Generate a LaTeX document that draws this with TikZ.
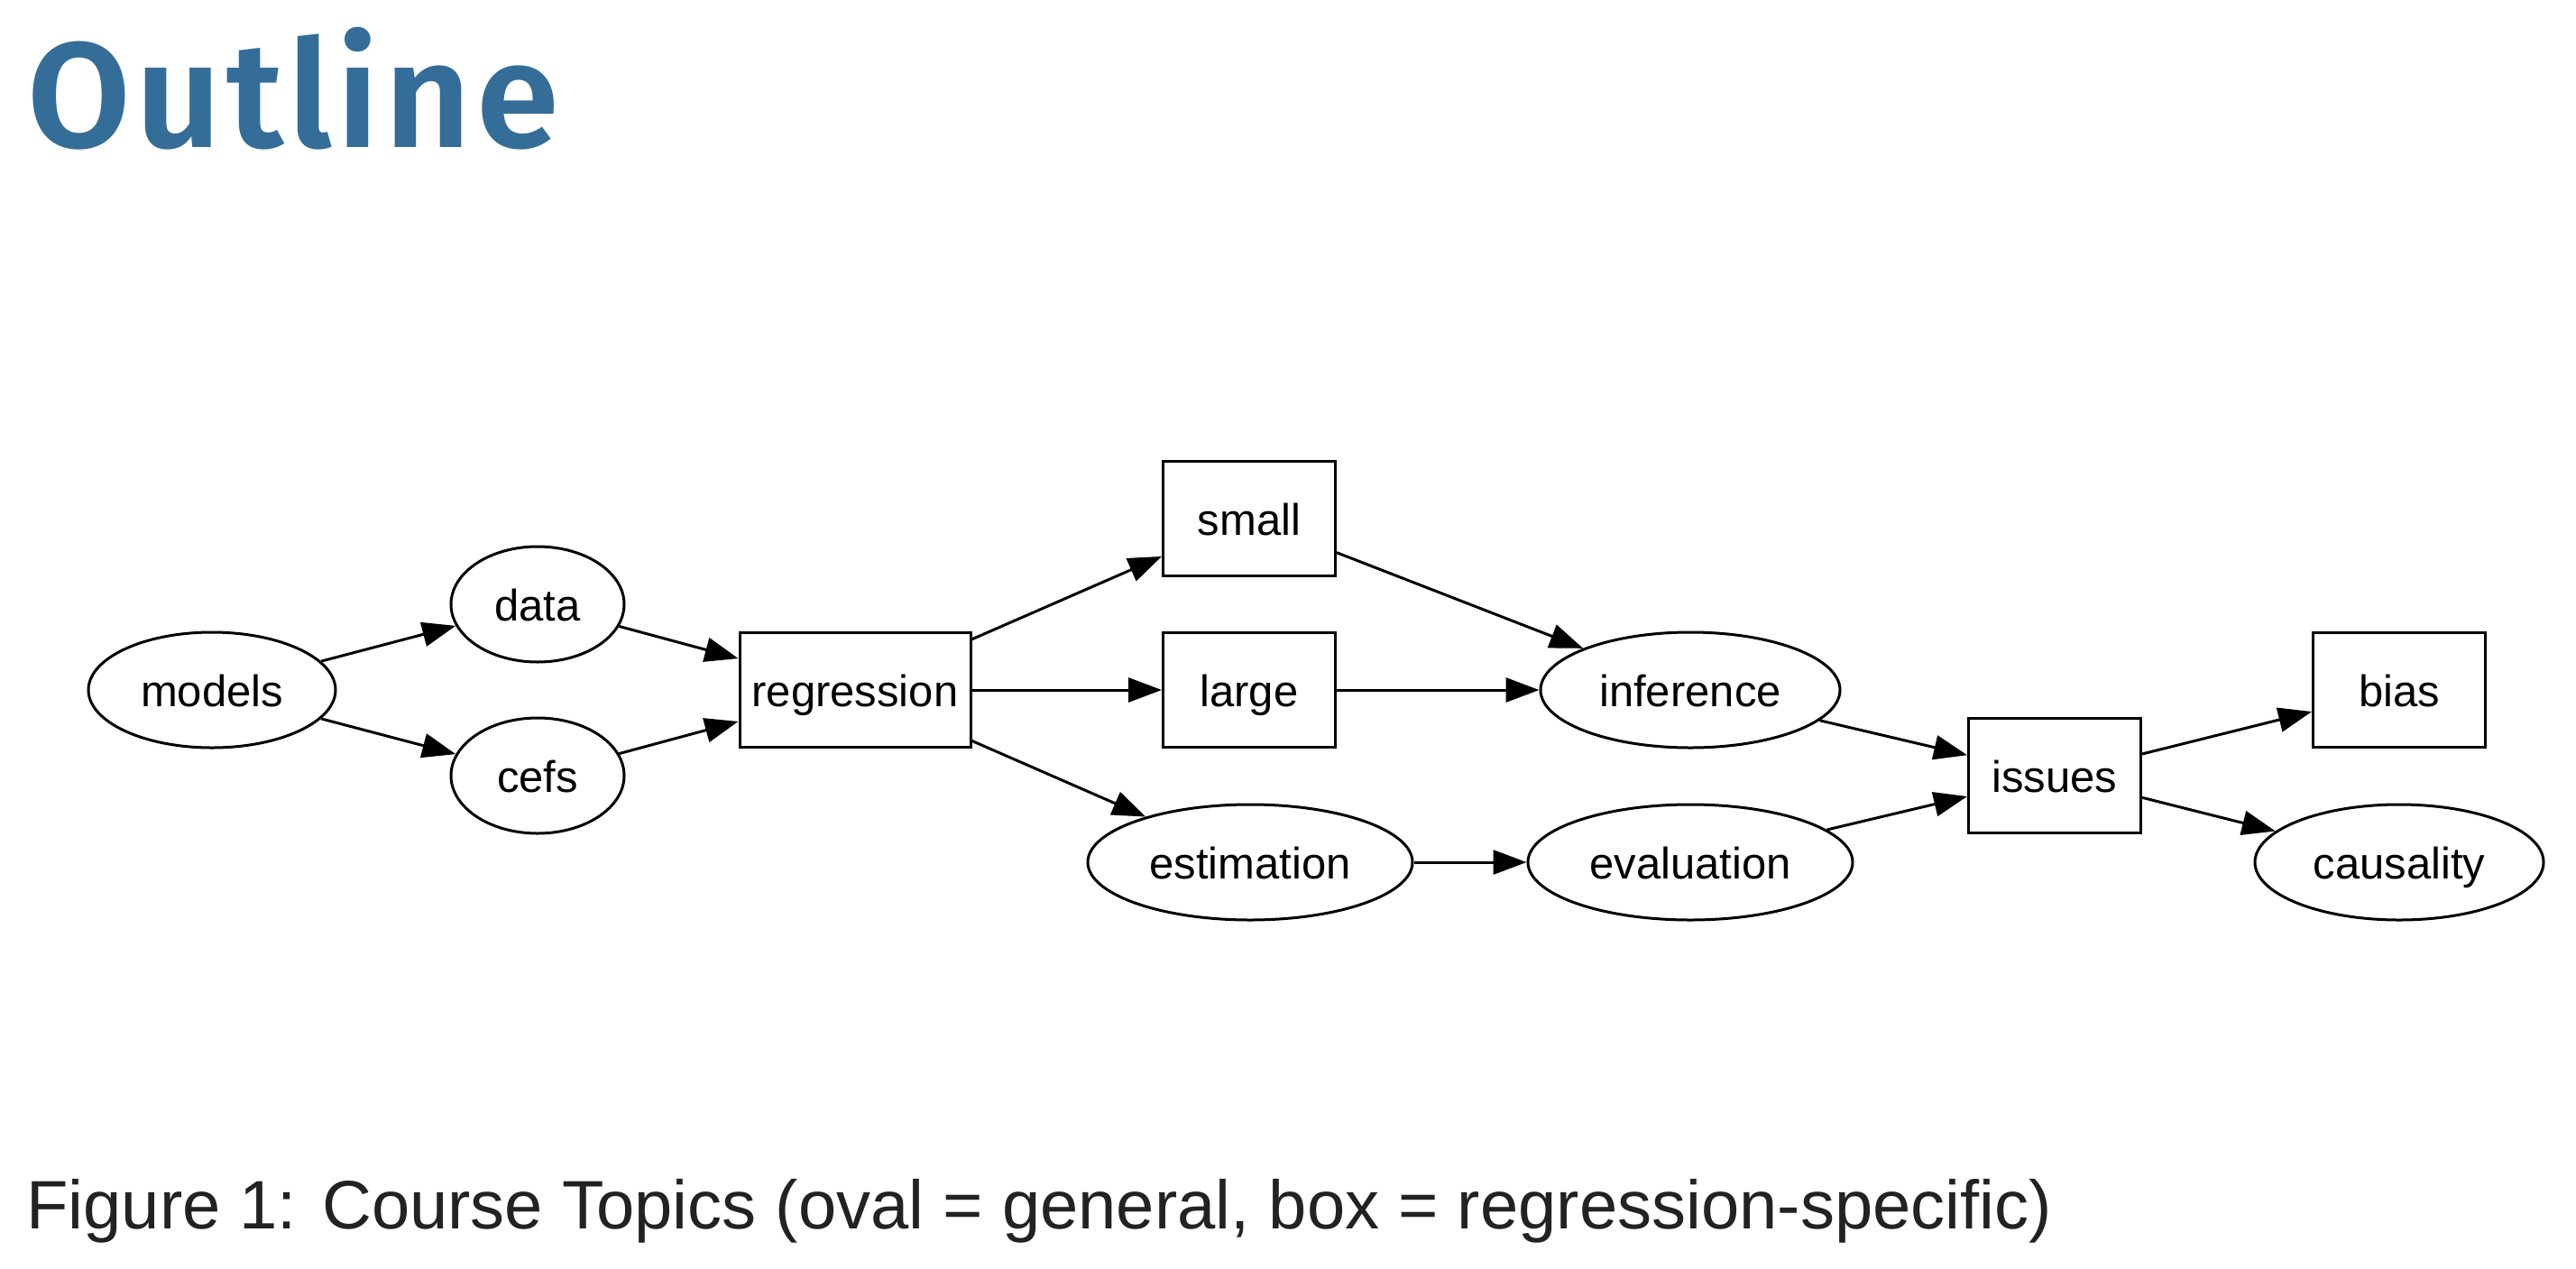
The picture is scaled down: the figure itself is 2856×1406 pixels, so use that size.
\documentclass[tikz,border=0pt]{standalone}
\usepackage{fontspec}
\setmainfont{Liberation Sans}
\newfontfamily\titlefont{Fira Sans SemiBold}[LetterSpace=3.5]
\usetikzlibrary{arrows.meta,shapes.geometric}
\definecolor{titleblue}{RGB}{52,110,152}
\definecolor{captiongray}{RGB}{34,34,34}
\begin{document}
\begin{tikzpicture}[x=1pt,y=-1pt,
  every node/.style={font=\fontsize{49}{58}\selectfont},
  oval/.style={ellipse, draw, line width=3pt, inner sep=0pt, minimum height=128pt, text height=36pt, text depth=0pt},
  box/.style={rectangle, draw, line width=3pt, inner sep=0pt, minimum height=127pt, minimum width=191pt, text height=36pt, text depth=0pt},
  conn/.style={-{Triangle[length=37pt,width=27pt]}, line width=3pt}]
\useasboundingbox[fill=white] (0,0) rectangle (2856,1406);

\node[anchor=base west, inner sep=0pt, text=titleblue, font=\titlefont\fontsize{166}{185}\selectfont] (title) at (30,163) {Outline};

\node[oval, minimum width=274pt] (models) at (235,765) {models};
\node[oval, minimum width=192pt] (data) at (596,670) {data};
\node[oval, minimum width=192pt] (cefs) at (596,860) {cefs};
\node[box, minimum width=256pt] (regression) at (948,765) {regression};
\node[box] (small) at (1385,575) {small};
\node[box] (large) at (1385,765) {large};
\node[oval, minimum width=360pt] (estimation) at (1386,956) {estimation};
\node[oval, minimum width=332pt] (inference) at (1874,765) {inference};
\node[oval, minimum width=360pt] (evaluation) at (1874,956) {evaluation};
\node[box] (issues) at (2278,860) {issues};
\node[box] (bias) at (2660,765) {bias};
\node[oval, minimum width=320pt] (causality) at (2660,956) {causality};

\draw[conn] (models) -- (data);
\draw[conn] (models) -- (cefs);
\draw[conn] (data) -- (regression);
\draw[conn] (cefs) -- (regression);
\draw[conn] (regression) -- (small);
\draw[conn] (regression) -- (large);
\draw[conn] (regression) -- (estimation);
\draw[conn] (small) -- (inference);
\draw[conn] (large) -- (inference);
\draw[conn] (estimation) -- (evaluation);
\draw[conn] (inference) -- (issues);
\draw[conn] (evaluation) -- (issues);
\draw[conn] (issues) -- (bias);
\draw[conn] (issues) -- (causality);

\node[anchor=base west, inner sep=0pt, text=captiongray, font=\fontsize{76}{90}\selectfont] (caption) at (29,1362) {Figure 1: Course Topics (oval = general, box = regression-specific)};
\end{tikzpicture}
\end{document}
